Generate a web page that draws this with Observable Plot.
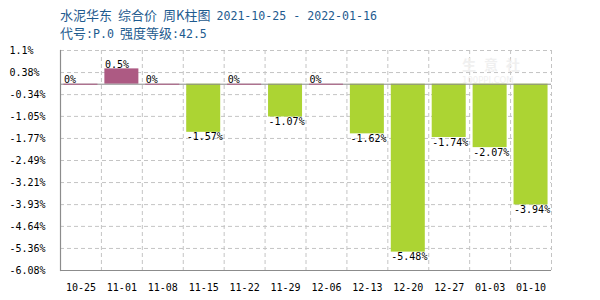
<!DOCTYPE html>
<html>
<head>
<meta charset="utf-8">
<script src="https://cdn.jsdelivr.net/npm/d3@7"></script>
<script src="https://cdn.jsdelivr.net/npm/@observablehq/plot@0.6"></script>
<style>
  html, body { margin: 0; padding: 0; background: #fff; }
  #wrap { position: relative; width: 600px; height: 300px; overflow: hidden; }
  #head { position: relative; height: 42px; }
  .t { position: absolute; left: 60px; white-space: pre; color: #1e5b8f; font-size: 13px; line-height: 16px; }
  .cjk { font-family: "Noto Sans CJK SC", sans-serif; font-size: 13px; }
  .mono { font-family: "DejaVu Sans Mono", monospace; font-size: 11.6px; }
  .sp { display: inline-block; width: 6px; }
  #wm { position: absolute; left: 462px; top: 56px; color: #f0f0f0; font-family: "Noto Sans CJK SC", sans-serif; font-weight: bold; font-size: 14px; letter-spacing: 8px; line-height: 17px; }
  #wm2 { position: absolute; left: 462px; top: 76px; color: #f0f0f0; font-family: "DejaVu Sans", sans-serif; font-size: 8.5px; line-height: 9px; }
  svg { display: block; }
</style>
</head>
<body>
<div id="wrap">
  <div id="head">
    <div class="t" style="top:7px"><span class="cjk">水泥华东</span><span class="sp"></span><span class="cjk">综合价</span><span class="sp"></span><span class="cjk">周K柱图</span><span class="sp"></span><span class="mono">2021-10-25 - 2022-01-16</span></div>
    <div class="t" style="top:25px"><span class="cjk">代号</span><span class="mono">:P.0</span><span class="sp"></span><span class="cjk">强度等级</span><span class="mono">:42.5</span></div>
  </div>
  <div id="chart"></div>
  <div id="wm">生意社</div>
  <div id="wm2">100PPI.COM</div>
</div>
<script>
const categories = ["10-25","11-01","11-08","11-15","11-22","11-29","12-06","12-13","12-20","12-27","01-03","01-10"];
const values = [0, 0.5, 0, -1.57, 0, -1.07, 0, -1.62, -5.48, -1.74, -2.07, -3.94];
const yTicks = [1.1, 0.38, -0.34, -1.05, -1.77, -2.49, -3.21, -3.93, -4.64, -5.36, -6.08];

const data = categories.map((c, i) => ({cat: c, value: values[i]}));

const width = 600, height = 258;
const mL = 60, mR = 49, mT = 8, mB = 30;
const step = (width - mL - mR) / categories.length;
const barW = 34;
const inset = (step - barW) / 2;

const up = "#ad5a83", down = "#acd433";
const grid = {stroke: "#c4c4c4", strokeDasharray: "4,3", strokeWidth: 1};
const mono = "DejaVu Sans Mono, monospace";

const chart = Plot.plot({
  width, height,
  marginLeft: mL, marginRight: mR, marginTop: mT, marginBottom: mB,
  style: {fontFamily: mono, fontSize: "10px", color: "#000", background: "transparent"},
  x: {domain: categories, padding: 0, round: false, axis: null},
  y: {domain: [-6.08, 1.1], axis: null},
  marks: [
    Plot.ruleY(yTicks.filter(d => d !== -6.08), grid),
    Plot.ruleX(categories, {x: d => d, dx: step / 2, ...grid}),
    Plot.barY(data.filter(d => d.value !== 0), {
      x: "cat", y1: 0, y2: "value",
      fill: d => d.value > 0 ? up : down,
      insetLeft: inset, insetRight: inset
    }),
    Plot.ruleY([0], {stroke: "#8c8c8c", strokeWidth: 1}),
    Plot.tickY(data.filter(d => d.value === 0), {x: "cat", y: "value", stroke: up, strokeWidth: 1, inset: inset}),
    Plot.ruleY([-6.08], {stroke: "#8c8c8c", strokeWidth: 1.2}),
    Plot.frame({anchor: "left", stroke: "#8c8c8c", strokeWidth: 1.2}),
    Plot.text(data.filter(d => d.value >= 0), {
      x: "cat", y: "value", text: d => d.value + "%",
      textAnchor: "start", lineAnchor: "bottom", dx: -barW / 2, dy: -1,
      fill: "#000", fontSize: 10
    }),
    Plot.text(data.filter(d => d.value < 0), {
      x: "cat", y: "value", text: d => d.value + "%",
      textAnchor: "start", lineAnchor: "top", dx: -barW / 2, dy: 1,
      fill: "#000", fontSize: 10
    }),
    Plot.text(yTicks, {
      y: d => d, frameAnchor: "left", text: d => d + "%",
      textAnchor: "start", dx: -51, fill: "#000", fontSize: 10
    }),
    Plot.text(categories, {
      x: d => d, frameAnchor: "bottom", text: d => d,
      lineAnchor: "middle", dy: 17, fill: "#000", fontSize: 10
    })
  ]
});
document.getElementById("chart").appendChild(chart);
</script>
</body>
</html>
